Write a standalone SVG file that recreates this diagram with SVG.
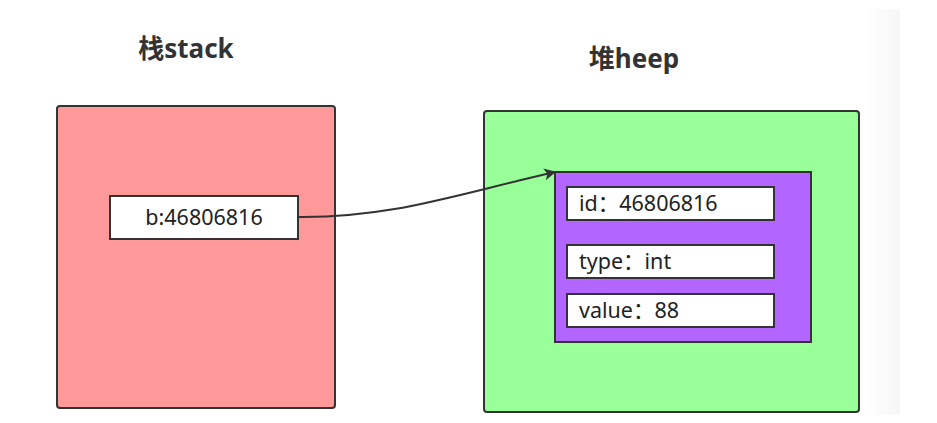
<svg xmlns="http://www.w3.org/2000/svg" width="937" height="423" viewBox="0 0 937 423">
<defs>
<linearGradient id="fade" x1="0" y1="0" x2="1" y2="0">
<stop offset="0" stop-color="#ffffff"/>
<stop offset="1" stop-color="#f6f6f6"/>
</linearGradient>
<marker id="arr" viewBox="0 0 10 10" refX="9" refY="5" markerWidth="12" markerHeight="12" markerUnits="userSpaceOnUse" orient="auto">
<path d="M0,0 L10,5 L0,10 L2.5,5 Z" fill="#333"/>
</marker>
<style>
.box{stroke:#333;stroke-width:2}
.cell{fill:#fff;stroke:#333;stroke-width:2}
.title{font-family:"Noto Sans","Noto Sans CJK SC",sans-serif;font-weight:bold;font-size:26px;fill:#333}
.lbl{font-family:"Noto Sans","Noto Sans CJK SC",sans-serif;font-size:21.5px;fill:#222}
.edge{fill:none;stroke:#333;stroke-width:2}
</style>
</defs>
<rect width="937" height="423" fill="#fff"/>
<rect x="866" y="9" width="34" height="406" fill="url(#fade)"/>
<g id="stack">
<rect class="box" x="57" y="106" width="278" height="302" rx="3" fill="#ff9999"/>
<text class="title" x="186" y="58" text-anchor="middle">栈stack</text>
</g>
<g id="heap">
<rect class="box" x="484" y="111" width="375" height="301" rx="3" fill="#99ff99"/>
<text class="title" x="634" y="68" text-anchor="middle">堆heep</text>
</g>
<g id="object">
<rect class="box" x="555" y="172" width="256" height="170" fill="#b266ff"/>
</g>
<g id="var-b">
<rect class="cell" x="110" y="196" width="188" height="43"/>
<text class="lbl" x="204" y="225" text-anchor="middle">b:46806816</text>
</g>
<g id="field-id">
<rect class="cell" x="567" y="187" width="207" height="33"/>
<text class="lbl" x="579" y="211">id：46806816</text>
</g>
<g id="field-type">
<rect class="cell" x="567" y="245" width="207" height="33"/>
<text class="lbl" x="579" y="269">type：int</text>
</g>
<g id="field-value">
<rect class="cell" x="567" y="294" width="207" height="33"/>
<text class="lbl" x="579" y="318">value：88</text>
</g>
<g id="connectors">
<path class="edge" d="M298,217 C390,218 450,196 555,172" marker-end="url(#arr)"/>
</g>
</svg>
